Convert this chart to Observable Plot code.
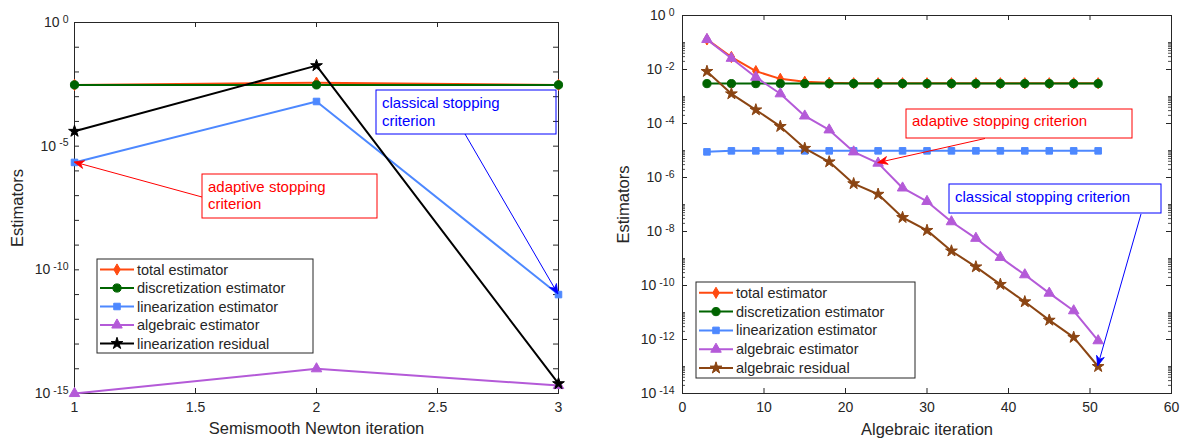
<!DOCTYPE html>
<html><head><meta charset="utf-8">
<script src="https://cdn.jsdelivr.net/npm/d3@7"></script>
<script src="https://cdn.jsdelivr.net/npm/@observablehq/plot@0.6"></script>
<style>
body{margin:0;background:#fff;}
#wrap{position:relative;width:1185px;height:442px;overflow:hidden;background:#fff}
#wrap > svg{position:absolute;top:0}
</style></head><body><div id="wrap"></div>
<script>
// ---------- data: left panel (semismooth Newton) ----------
const newtonIter = [1, 2, 3];
const nTotal  = [3.0e-3, 3.7e-3, 3.0e-3];
const nDisc   = [3.0e-3, 3.0e-3, 3.0e-3];
const nLin    = [2.2e-6, 6.4e-4, 1.0e-11];
const nAlg    = [1.0e-15, 1.0e-14, 2.1e-15];
const nLinRes = [4.0e-5, 1.8e-2, 2.5e-15];
const leftXTicks = [1, 1.5, 2, 2.5, 3];
const leftYLabelTicks = [1, 1e-5, 1e-10, 1e-15];
const leftYTicks = [1,1e-1,1e-2,1e-3,1e-4,1e-5,1e-6,1e-7,1e-8,1e-9,1e-10,1e-11,1e-12,1e-13,1e-14,1e-15];

// ---------- data: right panel (algebraic iterations) ----------
const algIter = [3, 6, 9, 12, 15, 18, 21, 24, 27, 30, 33, 36, 39, 42, 45, 48, 51];
const aTotal = [0.13, 0.029, 8.7e-3, 4.5e-3, 3.5e-3, 3.2e-3, 3.1e-3, 3.1e-3, 3.1e-3, 3.1e-3, 3.1e-3, 3.1e-3, 3.1e-3, 3.1e-3, 3.1e-3, 3.1e-3, 3.1e-3];
const aDisc  = [3.0e-3, 3.0e-3, 3.0e-3, 3.0e-3, 3.0e-3, 3.0e-3, 3.0e-3, 3.0e-3, 3.0e-3, 3.0e-3, 3.0e-3, 3.0e-3, 3.0e-3, 3.0e-3, 3.0e-3, 3.0e-3, 3.0e-3];
const aLin   = [8.9e-6, 9.7e-6, 9.7e-6, 9.7e-6, 9.7e-6, 9.7e-6, 9.7e-6, 9.7e-6, 9.7e-6, 9.7e-6, 9.7e-6, 9.7e-6, 9.7e-6, 9.7e-6, 9.7e-6, 9.7e-6, 9.7e-6];
const aAlg   = [0.13, 0.026, 5.2e-3, 1.26e-3, 1.9e-4, 5.8e-5, 8.9e-6, 3.4e-6, 4.1e-7, 1.3e-7, 2.3e-8, 5.6e-9, 1.1e-9, 2.5e-10, 5.2e-11, 1.16e-11, 9.0e-13];
const aRes   = [8.5e-3, 1.26e-3, 3.2e-4, 7.8e-5, 1.2e-5, 3.8e-6, 5.9e-7, 2.4e-7, 3.3e-8, 1.1e-8, 1.9e-9, 4.9e-10, 1.1e-10, 2.5e-11, 5.2e-12, 1.2e-12, 1.0e-13];
const rightXTicks = [0, 10, 20, 30, 40, 50, 60];
const rightYLabelTicks = [1, 1e-2, 1e-4, 1e-6, 1e-8, 1e-10, 1e-12, 1e-14];
const rightYOddTicks = [1e-1, 1e-3, 1e-5, 1e-7, 1e-9, 1e-11, 1e-13];
const rightMinorMult = [2, 3, 4, 5, 6, 7, 8, 9];

// ---------- labels ----------
const leftNames  = ["total estimator", "discretization estimator", "linearization estimator", "algebraic estimator", "linearization residual"];
const rightNames = ["total estimator", "discretization estimator", "linearization estimator", "algebraic estimator", "algebraic residual"];
const annAdaptive = ["adaptive stopping", "criterion"];
const annClassical = ["classical stopping", "criterion"];
const annAdaptiveOne = ["adaptive stopping criterion"];
const annClassicalOne = ["classical stopping criterion"];

// ---------- styles ----------
const FONT = '"Liberation Sans", Arial, Helvetica, sans-serif';
const INK = "#262626";
const C_TOTAL = "#FF4A10", C_DISC = "#006400", C_LIN = "#4D88FF", C_ALG = "#B45AD8", C_RES_BLACK = "#000000", C_RES_BROWN = "#8B4513";
const SYM = {total: "diamond", disc: "circle", lin: "square", alg: "triangle", res: "star"};
const RAD = {diamond: 3.4, circle: 4.1, square: 3.7, triangle: 3.9, star: 3.7};
const H = 442;

function rows(xs, ys) { return xs.map((x, i) => ({x, y: ys[i]})); }

function panel(cfg) {
  const {width, ml, mr, mt, mb, xDomain, yDomain, xTicks, yLabelTicks, majorTicks, minorTicks, series, xlabel, ylabelDx, xlabelDy, yPad} = cfg;
  const iw = width - ml - mr, ih = H - mt - mb;
  const marks = [
    Plot.frame({stroke: INK, strokeWidth: 1}),
    Plot.tickX(xTicks, {x: d => d, insetTop: ih - 5, stroke: INK}),
    Plot.tickX(xTicks, {x: d => d, insetBottom: ih - 5, stroke: INK}),
    Plot.tickY(majorTicks, {y: d => d, insetRight: iw - 5, stroke: INK}),
    Plot.tickY(majorTicks, {y: d => d, insetLeft: iw - 5, stroke: INK}),
  ];
  if (minorTicks.length) {
    marks.push(Plot.tickY(minorTicks, {y: d => d, insetRight: iw - 3, stroke: INK, strokeWidth: 0.8}));
    marks.push(Plot.tickY(minorTicks, {y: d => d, insetLeft: iw - 3, stroke: INK, strokeWidth: 0.8}));
  }
  marks.push(Plot.axisX({ticks: xTicks, tickSize: 0, tickPadding: 9, fontSize: 14, tickFormat: d => String(d), label: null}));
  marks.push(Plot.axisY({ticks: yLabelTicks, tickSize: 0, tickPadding: yPad, fontSize: 14, tickFormat: d => "10^" + Math.round(Math.log10(d)), label: null}));
  marks.push(Plot.text([xlabel], {text: d => d, frameAnchor: "bottom", lineAnchor: "middle", dy: xlabelDy, fontSize: 16.5}));
  marks.push(Plot.text(["Estimators"], {text: d => d, frameAnchor: "left", rotate: -90, lineAnchor: "middle", textAnchor: "middle", dx: ylabelDx, fontSize: 16.5}));
  for (const s of series) {
    const data = rows(s.xs, s.ys);
    marks.push(Plot.line(data, {x: "x", y: "y", stroke: s.color, strokeWidth: 2}));
    marks.push(Plot.dot(data, {x: "x", y: "y", symbol: s.symbol, r: RAD[s.symbol], fill: s.color, stroke: s.color, strokeWidth: 1}));
  }
  const plot = Plot.plot({
    width, height: H, marginLeft: ml, marginRight: mr, marginTop: mt, marginBottom: mb,
    x: {domain: xDomain}, y: {type: "log", domain: yDomain},
    style: {fontFamily: FONT, fontSize: "14px", color: INK, background: "white", overflow: "visible"},
    marks
  });
  // superscript exponents in y tick labels
  d3.select(plot).selectAll('g[aria-label="y-axis tick label"] text').each(function () {
    const m = this.textContent.match(/^10\^(.+)$/);
    if (!m) return;
    const t = d3.select(this); t.text(null).attr("font-size", 14);
    t.append("tspan").text("10");
    t.append("tspan").attr("dx", 3).attr("dy", "-0.42em").attr("font-size", "10.5px").text(m[1]);
  });
  return plot;
}

function symbolPath(name, r) {
  const map = {diamond: d3.symbolDiamond, circle: d3.symbolCircle, square: d3.symbolSquare, triangle: d3.symbolTriangle, star: d3.symbolStar};
  return d3.symbol(map[name], r * r * Math.PI)();
}

function legend(svg, box, rowY0, step, series) {
  const g = d3.select(svg).append("g").attr("font-family", FONT).attr("font-size", 14.5).attr("text-anchor", "start");
  g.append("rect").attr("x", box[0]).attr("y", box[1]).attr("width", box[2]).attr("height", box[3])
    .attr("fill", "white").attr("stroke", INK).attr("stroke-width", 1);
  series.forEach((s, i) => {
    const y = rowY0 + i * step;
    g.append("line").attr("x1", box[0] + 3).attr("x2", box[0] + 37).attr("y1", y).attr("y2", y)
      .attr("stroke", s.color).attr("stroke-width", 2);
    g.append("path").attr("d", symbolPath(s.symbol, RAD[s.symbol])).attr("transform", `translate(${box[0] + 20},${y})`)
      .attr("fill", s.color).attr("stroke", s.color);
    g.append("text").attr("x", box[0] + 40).attr("y", y).attr("dy", "0.35em").attr("fill", INK).text(s.name);
  });
}

function annotate(plot, box, lines, lineY0, lineStep, color, from, target) {
  const sx = plot.scale("x"), sy = plot.scale("y");
  const tx = sx.apply(target[0]), ty = sy.apply(target[1]);
  const g = d3.select(plot).append("g").attr("font-family", FONT).attr("font-size", 15).attr("text-anchor", "start");
  g.append("rect").attr("x", box[0]).attr("y", box[1]).attr("width", box[2]).attr("height", box[3])
    .attr("fill", "none").attr("stroke", color).attr("stroke-width", 1);
  lines.forEach((l, i) => g.append("text").attr("x", box[0] + 6).attr("y", lineY0 + i * lineStep).attr("dy", "0.35em").attr("fill", color).text(l));
  const dx = tx - from[0], dy = ty - from[1], len = Math.hypot(dx, dy);
  const ux = dx / len, uy = dy / len, nx = -uy, ny = ux;
  const L = 10, W = 4, N = 7;
  g.append("line").attr("x1", from[0]).attr("y1", from[1]).attr("x2", tx - N * ux).attr("y2", ty - N * uy)
    .attr("stroke", color).attr("stroke-width", 1);
  const pts = [[tx, ty], [tx - L * ux + W * nx, ty - L * uy + W * ny], [tx - N * ux, ty - N * uy], [tx - L * ux - W * nx, ty - L * uy - W * ny]];
  g.append("path").attr("d", "M" + pts.map(p => p.join(",")).join("L") + "Z").attr("fill", color).attr("stroke", color).attr("stroke-width", 0.8);
}

const wrap = document.getElementById("wrap");

// ---- left panel ----
const leftSeries = [
  {name: leftNames[0], xs: newtonIter, ys: nTotal, color: C_TOTAL, symbol: SYM.total},
  {name: leftNames[1], xs: newtonIter, ys: nDisc, color: C_DISC, symbol: SYM.disc},
  {name: leftNames[2], xs: newtonIter, ys: nLin, color: C_LIN, symbol: SYM.lin},
  {name: leftNames[3], xs: newtonIter, ys: nAlg, color: C_ALG, symbol: SYM.alg},
  {name: leftNames[4], xs: newtonIter, ys: nLinRes, color: C_RES_BLACK, symbol: SYM.res},
];
const left = panel({
  width: 600, ml: 74, mr: 42, mt: 22, mb: 49,
  xDomain: [1, 3], yDomain: [1e-15, 1], xTicks: leftXTicks, yLabelTicks: leftYLabelTicks,
  majorTicks: leftYTicks, minorTicks: [], series: leftSeries,
  xlabel: "Semismooth Newton iteration", ylabelDx: -56.5, xlabelDy: 35, yPad: 6
});
left.style.left = "0px";
wrap.appendChild(left);
legend(left, [97, 259, 216, 94], 269.5, 18.5, leftSeries);
annotate(left, [202, 174, 175, 44], annAdaptive, 187, 17, "#FF0000", [202, 197], [newtonIter[0], nLin[0]]);
annotate(left, [376, 90, 180, 44], annClassical, 103, 17.5, "#0000FF", [465, 134], [newtonIter[2], nLin[2]]);

// ---- right panel ----
const rightSeries = [
  {name: rightNames[0], xs: algIter, ys: aTotal, color: C_TOTAL, symbol: SYM.total},
  {name: rightNames[1], xs: algIter, ys: aDisc, color: C_DISC, symbol: SYM.disc},
  {name: rightNames[2], xs: algIter, ys: aLin, color: C_LIN, symbol: SYM.lin},
  {name: rightNames[3], xs: algIter, ys: aAlg, color: C_ALG, symbol: SYM.alg},
  {name: rightNames[4], xs: algIter, ys: aRes, color: C_RES_BROWN, symbol: SYM.res},
];
const rightMinor = rightYOddTicks.concat(rightYLabelTicks.slice(1).flatMap(p => rightMinorMult.map(m => m * p)));
const right = panel({
  width: 585, ml: 82, mr: 14, mt: 15, mb: 49,
  xDomain: [0, 60], yDomain: [1e-14, 1], xTicks: rightXTicks, yLabelTicks: rightYLabelTicks,
  majorTicks: rightYLabelTicks, minorTicks: rightMinor, series: rightSeries,
  xlabel: "Algebraic iteration", ylabelDx: -58.5, xlabelDy: 36, yPad: 8
});
right.style.left = "600px";
wrap.appendChild(right);
legend(right, [96, 282, 219, 96], 292.8, 18.8, rightSeries);
annotate(right, [306, 109, 226, 29], annAdaptiveOne, 121, 0, "#FF0000", [385, 138.5], [algIter[7], aAlg[7]]);
annotate(right, [349, 184, 212, 29], annClassicalOne, 197, 0, "#0000FF", [541, 214], [algIter[16], aRes[16]]);
</script>
</body></html>
